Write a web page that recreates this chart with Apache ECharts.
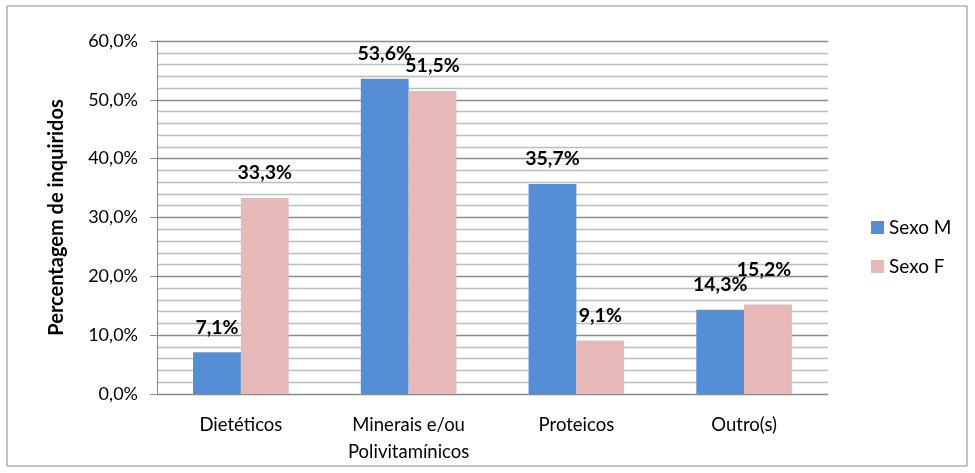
<!DOCTYPE html>
<html>
<head>
<meta charset="utf-8">
<script src="https://cdn.jsdelivr.net/npm/echarts@6/dist/echarts.min.js"></script>
<style>
  html, body { margin: 0; padding: 0; background: #fff; }
  #myChart { width: 975px; height: 473px; }
</style>
</head>
<body>
<div id="myChart"></div>
<script>
// dados
var categorias = ["Dietéticos", "Minerais e/ou\nPolivitamínicos", "Proteicos", "Outro(s)"];
var sexoM = [7.1, 53.6, 35.7, 14.3];
var sexoF = [33.3, 51.5, 9.1, 15.2];
var yTicks = [0, 10, 20, 30, 40, 50, 60];

var fonte = "Lato, 'Open Sans', sans-serif";
function pct(v) { return v.toFixed(1).replace(".", ",") + "%"; }

var myChart = echarts.init(document.getElementById("myChart"));
var option = {
  animation: false,
  textStyle: { fontFamily: fonte },
  graphic: [{
    type: "rect",
    shape: { x: 7, y: 6, width: 960, height: 460 },
    style: { fill: "none", stroke: "#888", lineWidth: 1 }
  }],
  legend: {
    orient: "vertical",
    left: 866,
    top: 213,
    itemWidth: 13,
    itemHeight: 13,
    itemGap: 20,
    icon: "rect",
    textStyle: { fontSize: 19, color: "#000", fontFamily: fonte },
    data: ["Sexo M", "Sexo F"]
  },
  grid: { left: 157, right: 147, top: 41, bottom: 79 },
  xAxis: {
    type: "category",
    data: categorias,
    axisLine: { lineStyle: { color: "#888", width: 1 } },
    axisTick: { length: 7, lineStyle: { color: "#888" } },
    axisLabel: { fontSize: 18.5, color: "#000", margin: 18, lineHeight: 27, fontFamily: fonte }
  },
  yAxis: {
    type: "value",
    min: yTicks[0],
    max: yTicks[yTicks.length - 1],
    interval: 10,
    name: "Percentagem de inquiridos",
    nameLocation: "middle",
    nameGap: 90,
    nameTextStyle: { fontSize: 20, fontWeight: "bold", color: "#000", fontFamily: fonte },
    axisLine: { show: true, lineStyle: { color: "#888", width: 1 } },
    axisTick: { show: true, length: 7, lineStyle: { color: "#888" } },
    axisLabel: { fontSize: 18, color: "#000", margin: 19, formatter: pct, fontFamily: fonte },
    splitLine: { lineStyle: { color: "#8c8c8c", width: 1.3 } },
    minorTick: { show: false, splitNumber: 5 },
    minorSplitLine: { show: true, lineStyle: { color: "#bdbdbd", width: 1.3 } }
  },
  series: [
    {
      name: "Sexo M",
      type: "bar",
      data: sexoM,
      barGap: "0%",
      barCategoryGap: "43%",
      itemStyle: { color: "#558ED5" },
      label: {
        show: true, position: "top", distance: 15,
        fontSize: 19.5, fontWeight: "bold", color: "#000", fontFamily: fonte,
        formatter: function (p) { return pct(p.value); }
      }
    },
    {
      name: "Sexo F",
      type: "bar",
      data: sexoF.map(function (v, i) {
        // rótulo de "Outro(s)" deslocado para cima e à esquerda no original
        return i === 3 ? { value: v, label: { distance: 25, offset: [-4, 0] } } : v;
      }),
      itemStyle: { color: "#E6B9B8" },
      label: {
        show: true, position: "top", distance: 15,
        fontSize: 19.5, fontWeight: "bold", color: "#000", fontFamily: fonte,
        formatter: function (p) { return pct(p.value); }
      }
    }
  ]
};
myChart.setOption(option);
</script>
</body>
</html>
